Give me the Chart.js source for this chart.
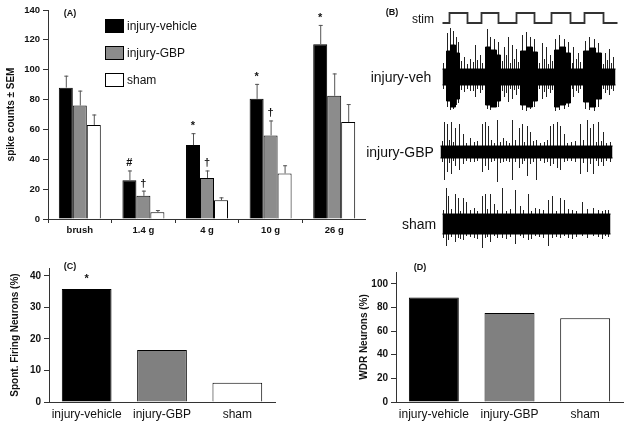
<!DOCTYPE html>
<html lang="en">
<head>
<meta charset="UTF-8">
<title>Spike counts, traces and neuron types</title>
<script src="https://cdn.jsdelivr.net/npm/chart.js"></script>
<style>
    body { margin: 0; background: #fff; font-family: 'Liberation Sans', Arial, sans-serif; color: #111; }
    #fig { position: relative; width: 629px; height: 425px; overflow: hidden; }
    canvas { position: absolute; }
    .lbl { position: absolute; white-space: nowrap; line-height: 1; transform: translate(-50%, -50%); }
    .tag { font-size: 9px; font-weight: bold; }
    .trace { font-size: 14px; }
    .key { position: absolute; width: 17px; height: 12px; border: 1px solid #000; }
    .keytxt { position: absolute; font-size: 12px; line-height: 1; transform: translateY(-50%); white-space: nowrap; }
</style>
</head>
<body>
<div id="fig">
    <canvas id="chartA" width="366" height="240" style="left:0;top:0"></canvas>
    <canvas id="chartC" width="280" height="170" style="left:0;top:255px"></canvas>
    <canvas id="chartD" width="305" height="170" style="left:320px;top:255px"></canvas>
    <canvas id="stim" width="176" height="20" style="left:442px;top:8px"></canvas>
    <canvas id="traceVeh" width="175" height="100" style="left:442px;top:27px"></canvas>
    <canvas id="traceGbp" width="175" height="100" style="left:440px;top:102px"></canvas>
    <canvas id="traceSham" width="175" height="100" style="left:442px;top:174px"></canvas>

    <div class="lbl tag" style="left:70px;top:13px">(A)</div>
    <div class="lbl tag" style="left:392px;top:12px">(B)</div>
    <div class="lbl tag" style="left:70px;top:266px">(C)</div>
    <div class="lbl tag" style="left:420px;top:267px">(D)</div>

    <!-- legend of panel A -->
    <div class="key" style="left:105px;top:19px;background:#000"></div>
    <div class="keytxt" style="left:127px;top:26px">injury-vehicle</div>
    <div class="key" style="left:105px;top:46px;background:#8c8c8c"></div>
    <div class="keytxt" style="left:127px;top:53px">injury-GBP</div>
    <div class="key" style="left:105px;top:73px;background:#fff"></div>
    <div class="keytxt" style="left:127px;top:80px">sham</div>

    <!-- trace labels of panel B -->
    <div class="lbl" style="left:423px;top:19px;font-size:12px">stim</div>
    <div class="lbl trace" style="left:401px;top:77px">injury-veh</div>
    <div class="lbl trace" style="left:400px;top:152px">injury-GBP</div>
    <div class="lbl trace" style="left:419px;top:224px">sham</div>
</div>

<script>
    // --- Panel A: spike counts per stimulus ---
    const stimuli = ['brush', '1.4 g', '4 g', '10 g', '26 g'];
    const vehMean = [88, 26, 49.5, 80.5, 117];
    const vehSem = [8, 6.5, 8, 10, 13];
    const vehMarks = ['', '#', '*', '*', '*'];
    const gbpMean = [76, 15.5, 27.5, 56, 82.5];
    const gbpSem = [10, 3.5, 5, 10, 15];
    const gbpMarks = ['', '\u2020', '\u2020', '\u2020', ''];
    const shamMean = [63, 4.5, 12.5, 30.5, 65];
    const shamSem = [7, 1.5, 2, 5.5, 12];
    const shamMarks = ['', '', '', '', ''];

    // --- Panels C and D ---
    const groups = ['injury-vehicle', 'injury-GBP', 'sham'];
    const spontPct = [35.8, 16.5, 6.1];
    const spontMarks = ['*', '', ''];
    const wdrPct = [88.5, 75.3, 70.8];

    // --- Panel B: stimulus steps and traces (time in trace units, amplitude in arbitrary units) ---
    const stimRise = [7, 39, 74, 109, 142];
    const stimFall = [25, 56, 92, 128, 161];
    const stimLen = 175;

    const vehBurstStart = [4, 8, 13, 43, 48, 54, 78, 84, 90, 112, 117, 123, 141, 147, 153];
    const vehBurstEnd   = [8, 13, 17, 48, 54, 58, 84, 90, 95, 117, 123, 128, 147, 153, 159];
    const vehBurstUp    = [26, 32, 24, 30, 27, 22, 26, 30, 25, 27, 30, 24, 26, 29, 24];
    const vehBurstDown  = [24, 30, 22, 28, 30, 24, 28, 30, 24, 30, 28, 26, 25, 30, 22];
    const vehNoise = 8;
    const vehLen = 173;
    const vehSpikeT  = [5, 8, 11, 14, 16, 22, 28, 33, 38, 45, 48, 52, 56, 62, 66, 70, 74, 80, 84, 88, 92, 100, 104, 108, 113, 117, 122, 126, 131, 136, 143, 147, 152, 156, 163, 167, 171];
    const vehSpikeUp = [44, 49, 46, 40, 35, 20, 18, 32, 22, 48, 40, 38, 35, 30, 40, 32, 28, 42, 45, 40, 38, 34, 30, 22, 38, 42, 38, 35, 30, 24, 36, 40, 38, 34, 24, 28, 20];
    const vehSpikeDn = [30, 33, 32, 28, 26, 15, 14, 20, 16, 32, 33, 30, 30, 20, 25, 22, 18, 33, 34, 32, 30, 22, 20, 16, 34, 33, 32, 30, 20, 16, 32, 33, 34, 30, 16, 18, 14];
    const vehFuzzT  = [1, 19, 25, 31, 35, 40, 60, 64, 68, 72, 76, 97, 102, 106, 110, 130, 134, 138, 161, 165, 169];
    const vehFuzzUp = [14, 16, 13, 15, 17, 14, 16, 22, 14, 18, 15, 14, 18, 13, 16, 14, 18, 15, 13, 17, 14];
    const vehFuzzDn = [12, 13, 12, 14, 12, 13, 14, 16, 12, 13, 12, 12, 15, 12, 13, 12, 14, 12, 12, 13, 12];

    const gbpNoise = 6;
    const gbpLen = 172;
    const gbpSpikeT  = [4, 7, 11, 15, 19, 23, 30, 42, 45, 48, 57, 63, 72, 79, 82, 87, 90, 96, 110, 113, 117, 120, 124, 140, 147, 150, 153, 158, 163];
    const gbpSpikeUp = [30, 28, 30, 24, 28, 18, 14, 28, 30, 26, 32, 14, 32, 24, 28, 26, 20, 12, 26, 28, 30, 26, 18, 28, 32, 24, 28, 30, 20];
    const gbpSpikeDn = [28, 20, 22, 14, 18, 12, 10, 20, 14, 18, 30, 10, 28, 16, 12, 24, 12, 28, 14, 12, 16, 18, 10, 22, 20, 12, 22, 14, 14];
    const gbpFuzzT  = [2, 9, 13, 26, 34, 37, 51, 54, 60, 66, 69, 75, 84, 93, 100, 104, 107, 127, 131, 135, 143, 156, 161, 166, 170];
    const gbpFuzzUp = [11, 12, 10, 9, 10, 11, 12, 9, 10, 11, 9, 12, 10, 11, 9, 10, 12, 9, 10, 11, 12, 10, 11, 9, 10];
    const gbpFuzzDn = [10, 11, 9, 9, 10, 9, 10, 9, 11, 9, 10, 10, 9, 10, 9, 11, 10, 9, 9, 10, 11, 9, 10, 9, 10];

    const shamNoise = 10;
    const shamLen = 168;
    const shamSpikeT  = [4, 6, 13, 16, 21, 24, 40, 43, 48, 52, 60, 73, 78, 86, 93, 106, 110, 118, 122, 140, 151, 163];
    const shamSpikeUp = [36, 28, 30, 26, 26, 22, 28, 30, 30, 20, 36, 34, 18, 30, 16, 24, 28, 26, 24, 22, 16, 14];
    const shamSpikeDn = [22, 16, 18, 14, 16, 12, 24, 14, 18, 12, 14, 20, 12, 16, 12, 22, 14, 14, 12, 12, 12, 12];
    const shamFuzzT  = [1, 9, 18, 28, 32, 35, 45, 55, 64, 68, 81, 89, 97, 101, 114, 126, 130, 134, 145, 156, 160, 166];
    const shamFuzzUp = [14, 15, 13, 14, 16, 13, 15, 14, 13, 15, 14, 13, 15, 14, 13, 15, 14, 13, 15, 14, 13, 14];
    const shamFuzzDn = [14, 13, 15, 13, 14, 15, 13, 14, 15, 13, 14, 15, 13, 14, 13, 14, 15, 13, 14, 13, 15, 13];

    Chart.defaults.font.family = "'Liberation Sans', Arial, sans-serif";
    Chart.defaults.color = '#111';

    const AXIS = '#333';

    // error bars (upward only) and significance marks
    const errorBars = {
        id: 'errorBars',
        afterDatasetsDraw(chart, args, opts) {
            const ctx = chart.ctx;
            const y = chart.scales.y;
            ctx.save();
            chart.data.datasets.forEach((ds, i) => {
                const sem = opts.sems[i] || [];
                const marks = opts.marks[i] || [];
                chart.getDatasetMeta(i).data.forEach((bar, j) => {
                    let top = bar.y;
                    if (sem[j]) {
                        top = y.getPixelForValue(ds.data[j] + sem[j]);
                        ctx.strokeStyle = '#555';
                        ctx.lineWidth = 1;
                        ctx.beginPath();
                        ctx.moveTo(bar.x + 0.5, bar.y);
                        ctx.lineTo(bar.x + 0.5, top);
                        ctx.moveTo(bar.x - 1.5, top + 0.5);
                        ctx.lineTo(bar.x + 2.5, top + 0.5);
                        ctx.stroke();
                    }
                    if (marks[j]) {
                        ctx.fillStyle = '#111';
                        ctx.font = 'bold 11px "Liberation Sans", Arial, sans-serif';
                        ctx.textAlign = 'center';
                        ctx.textBaseline = 'alphabetic';
                        ctx.fillText(marks[j], bar.x, top - opts.gap);
                    }
                });
            });
            ctx.restore();
        }
    };

    new Chart(document.getElementById('chartA'), {
        type: 'bar',
        data: {
            labels: stimuli,
            datasets: [
                { label: 'injury-vehicle', data: vehMean, backgroundColor: '#000', borderColor: '#000', borderWidth: 1 },
                { label: 'injury-GBP', data: gbpMean, backgroundColor: '#8c8c8c', borderColor: '#000', borderWidth: 1 },
                { label: 'sham', data: shamMean, backgroundColor: '#fff', borderColor: '#000', borderWidth: 1 }
            ]
        },
        options: {
            responsive: false,
            animation: false,
            devicePixelRatio: 1,
            layout: { padding: { top: 10, right: 0, left: 0, bottom: 0 } },
            datasets: { bar: { categoryPercentage: 0.66, barPercentage: 1 } },
            plugins: {
                legend: { display: false },
                tooltip: { enabled: false },
                errorBars: { sems: [vehSem, gbpSem, shamSem], marks: [vehMarks, gbpMarks, shamMarks], gap: 4 }
            },
            scales: {
                x: {
                    grid: { display: true, drawOnChartArea: false, drawTicks: true, tickLength: 4, color: AXIS, offset: true },
                    border: { display: true, color: AXIS, width: 1 },
                    ticks: { font: { size: 9.5, weight: 'bold' }, padding: 2, color: '#111' },
                    afterFit: s => { s.height = 21; }
                },
                y: {
                    min: 0,
                    max: 140,
                    ticks: { stepSize: 20, font: { size: 9.5, weight: 'bold' }, padding: 3, color: '#111' },
                    grid: { drawOnChartArea: false, tickLength: 5, color: AXIS },
                    border: { color: AXIS },
                    title: { display: true, text: 'spike counts \u00b1 SEM', font: { size: 10, weight: 'bold' }, padding: { top: 5, bottom: 0 }, color: '#111' },
                    afterFit: s => { s.width = 48; }
                }
            }
        },
        plugins: [errorBars]
    });

    function groupChart(id, values, marks, yMax, step, title, titlePad, yWidth, padTop, padRight) {
        return new Chart(document.getElementById(id), {
            type: 'bar',
            data: {
                labels: groups,
                datasets: [{
                    data: values,
                    backgroundColor: ['#000', '#808080', '#fff'],
                    borderColor: '#000',
                    borderWidth: 1,
                    categoryPercentage: 0.66,
                    barPercentage: 1
                }]
            },
            options: {
                responsive: false,
                animation: false,
                devicePixelRatio: 1,
                layout: { padding: { top: padTop, right: padRight, left: 0, bottom: 0 } },
                plugins: {
                    legend: { display: false },
                    tooltip: { enabled: false },
                    errorBars: { sems: [], marks: [marks], gap: 7 }
                },
                scales: {
                    x: {
                        grid: { display: true, drawOnChartArea: false, drawTicks: false },
                        border: { display: true, color: AXIS, width: 1 },
                        ticks: { font: { size: 12 }, padding: 5, color: '#111', maxRotation: 0, minRotation: 0, autoSkip: false },
                        afterFit: s => { s.height = 23; }
                    },
                    y: {
                        min: 0,
                        max: yMax,
                        ticks: { stepSize: step, includeBounds: false, font: { size: 10, weight: 'bold' }, padding: 3, color: '#111' },
                        grid: { drawOnChartArea: false, tickLength: 5, color: AXIS },
                        border: { color: AXIS },
                        title: { display: true, text: title, font: { size: 10, weight: 'bold' }, padding: { top: titlePad, bottom: 0 }, color: '#111' },
                        afterFit: s => { s.width = yWidth; }
                    }
                }
            },
            plugins: [errorBars]
        });
    }

    groupChart('chartC', spontPct, spontMarks, 42.5, 10, 'Spont. Firing Neurons (%)', 9, 49, 13, 5);
    groupChart('chartD', wdrPct, [], 110, 20, 'WDR Neurons (%)', 38, 76, 17, 2);

    // --- Panel B helpers: build point lists from the arrays above ---
    function envelope(start, end, amp, noise, len, sign) {
        const pts = [{ x: 0, y: sign * noise }];
        start.forEach((s, i) => {
            pts.push({ x: s, y: sign * noise }, { x: s, y: sign * amp[i] },
                     { x: end[i], y: sign * amp[i] }, { x: end[i], y: sign * noise });
        });
        pts.push({ x: len, y: sign * noise });
        return pts;
    }

    function spikes(t, up, dn) {
        const pts = [];
        t.forEach((v, i) => pts.push({ x: v, y: up[i] }, { x: v, y: -dn[i] }, { x: v, y: null }));
        return pts;
    }

    function traceChart(id, datasets, yMin, yMax, xMax) {
        return new Chart(document.getElementById(id), {
            type: 'line',
            data: { datasets },
            options: {
                responsive: false,
                animation: false,
                devicePixelRatio: 1,
                layout: { padding: 0 },
                plugins: { legend: { display: false }, tooltip: { enabled: false } },
                elements: { point: { radius: 0 }, line: { tension: 0 } },
                scales: {
                    x: { type: 'linear', display: false, min: -0.5, max: xMax - 0.5 },
                    y: { display: false, min: yMin, max: yMax }
                }
            }
        });
    }

    function traceSets(burst, noise, len, spike, fuzz) {
        return [
            { data: envelope(burst[0], burst[1], burst[2], noise, len, 1), borderColor: '#000', borderWidth: 1, backgroundColor: '#000', fill: '+1' },
            { data: envelope(burst[0], burst[1], burst[3], noise, len, -1), borderColor: '#000', borderWidth: 1, fill: false },
            { data: spikes(fuzz[0], fuzz[1], fuzz[2]), borderColor: '#222', borderWidth: 1, fill: false, spanGaps: false },
            { data: spikes(spike[0], spike[1], spike[2]), borderColor: '#222', borderWidth: 1, fill: false, spanGaps: false }
        ];
    }

    const stimPts = [{ x: 0, y: 0 }];
    stimRise.forEach((r, i) => {
        stimPts.push({ x: r, y: 0 }, { x: r, y: 1 }, { x: stimFall[i], y: 1 }, { x: stimFall[i], y: 0 });
    });
    stimPts.push({ x: stimLen, y: 0 });

    traceChart('stim', [{ data: stimPts, borderColor: '#333', borderWidth: 1.8, fill: false }], -0.5, 1.5, 176);
    traceChart('traceVeh', traceSets([vehBurstStart, vehBurstEnd, vehBurstUp, vehBurstDown], vehNoise, vehLen,
                                     [vehSpikeT, vehSpikeUp, vehSpikeDn], [vehFuzzT, vehFuzzUp, vehFuzzDn]), -50, 50, 175);
    traceChart('traceGbp', traceSets([[], [], [], []], gbpNoise, gbpLen,
                                     [gbpSpikeT, gbpSpikeUp, gbpSpikeDn], [gbpFuzzT, gbpFuzzUp, gbpFuzzDn]), -50, 50, 175);
    traceChart('traceSham', traceSets([[], [], [], []], shamNoise, shamLen,
                                      [shamSpikeT, shamSpikeUp, shamSpikeDn], [shamFuzzT, shamFuzzUp, shamFuzzDn]), -50, 50, 175);
</script>
</body>
</html>
